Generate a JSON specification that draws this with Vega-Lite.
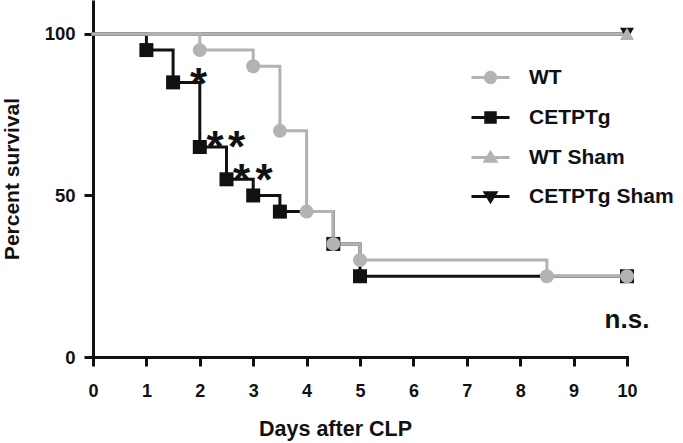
{
  "$schema": "https://vega.github.io/schema/vega-lite/v6.json",
  "width": 534,
  "height": 357,
  "autosize": "none",
  "padding": {"left": 93, "top": 0, "right": 56, "bottom": 86},
  "background": "white",
  "config": {"view": {"stroke": null}, "font": "Liberation Sans"},
  "datasets": {
    "surv": [
      {"group": "CETPTg", "day": 0, "pct": 100},
      {"group": "CETPTg", "day": 1, "pct": 95},
      {"group": "CETPTg", "day": 1.5, "pct": 85},
      {"group": "CETPTg", "day": 2, "pct": 65},
      {"group": "CETPTg", "day": 2.5, "pct": 55},
      {"group": "CETPTg", "day": 3, "pct": 50},
      {"group": "CETPTg", "day": 3.5, "pct": 45},
      {"group": "CETPTg", "day": 4.5, "pct": 35},
      {"group": "CETPTg", "day": 5, "pct": 25},
      {"group": "CETPTg", "day": 10, "pct": 25},
      {"group": "CETPTg Sham", "day": 0, "pct": 100},
      {"group": "CETPTg Sham", "day": 10, "pct": 100},
      {"group": "WT", "day": 0, "pct": 100},
      {"group": "WT", "day": 2, "pct": 95},
      {"group": "WT", "day": 3, "pct": 90},
      {"group": "WT", "day": 3.5, "pct": 70},
      {"group": "WT", "day": 4, "pct": 45},
      {"group": "WT", "day": 4.5, "pct": 35},
      {"group": "WT", "day": 5, "pct": 30},
      {"group": "WT", "day": 8.5, "pct": 25},
      {"group": "WT", "day": 10, "pct": 25},
      {"group": "WT Sham", "day": 0, "pct": 100},
      {"group": "WT Sham", "day": 10, "pct": 100}
    ],
    "notes": [
      {"label": "*", "day": 1.975, "pct": 86.5},
      {"label": "*", "day": 2.285, "pct": 67.0},
      {"label": "*", "day": 2.687, "pct": 67.0},
      {"label": "*", "day": 2.781, "pct": 56.5},
      {"label": "*", "day": 3.202, "pct": 56.5}
    ],
    "ns": [
      {"label": "n.s.", "day": 10, "pct": 9}
    ]
  },
  "layer": [
    {
      "data": {"name": "surv"},
      "transform": [{"filter": "datum.group === 'CETPTg' || datum.group === 'CETPTg Sham'"}],
      "mark": {"type": "line", "interpolate": "step-after", "strokeWidth": 3, "strokeCap": "square"},
      "encoding": {
        "x": {"field": "day", "type": "quantitative", "scale": {"domain": [0, 10], "nice": false, "zero": false},
          "axis": {"values": [0,1,2,3,4,5,6,7,8,9,10], "title": "Days after CLP", "grid": false,
            "domainWidth": 3, "domainColor": "#111111", "domainCap": "square", "tickWidth": 3, "tickSize": 9, "tickColor": "#111111",
            "labelFontSize": 18, "labelFontWeight": "bold", "labelColor": "#111111", "labelPadding": 16, "labelFlush": false,
            "titleFontSize": 21.5, "titleFontWeight": "bold", "titleColor": "#111111", "titlePadding": 18, "titleX": 242, "titleAlign": "center"}},
        "y": {"field": "pct", "type": "quantitative", "scale": {"domain": [0, 110.5], "nice": false, "zero": false},
          "axis": {"values": [0, 50, 100], "title": "Percent survival", "grid": false,
            "domainWidth": 3, "domainColor": "#111111", "tickWidth": 3, "tickSize": 9, "tickColor": "#111111",
            "labelFontSize": 18.5, "labelFontWeight": "bold", "labelColor": "#111111", "labelPadding": 9,
            "titleFontSize": 21, "titleFontWeight": "bold", "titleColor": "#111111", "titlePadding": 22}},
        "color": {"field": "group", "type": "nominal",
          "scale": {"domain": ["WT", "CETPTg", "WT Sham", "CETPTg Sham"], "range": ["#b3b3b3", "#111111", "#b3b3b3", "#111111"]}},
        "detail": {"field": "group"}
      }
    },
    {
      "data": {"name": "surv"},
      "transform": [{"filter": "datum.group === 'WT' || datum.group === 'WT Sham'"}],
      "mark": {"type": "line", "interpolate": "step-after", "strokeWidth": 3, "strokeCap": "square"},
      "encoding": {
        "x": {"field": "day", "type": "quantitative"},
        "y": {"field": "pct", "type": "quantitative"},
        "color": {"field": "group", "type": "nominal"},
        "detail": {"field": "group"}
      }
    },
    {
      "data": {"name": "surv"},
      "transform": [{"filter": "datum.day > 0"}],
      "mark": {"type": "point", "filled": true, "opacity": 1, "size": 196},
      "encoding": {
        "x": {"field": "day", "type": "quantitative"},
        "y": {"field": "pct", "type": "quantitative"},
        "color": {"field": "group", "type": "nominal",
          "legend": {"orient": "none", "legendX": 377, "legendY": 57, "title": null, "padding": 0,
            "symbolSize": 1444, "symbolStrokeWidth": 3, "labelFontSize": 21, "labelFontWeight": "bold", "labelColor": "#111111",
            "labelOffset": 18, "rowPadding": 8, "symbolOpacity": 1,
            "encode": {"symbols": {"update": {
              "shape": {"signal": "datum.value === 'WT' ? 'M-1,0H1M-0.27,0A0.27,0.27,0,1,0,0.27,0A0.27,0.27,0,1,0,-0.27,0Z' : datum.value === 'CETPTg' ? 'M-1,0H1M-0.25,-0.25H0.25V0.25H-0.25Z' : datum.value === 'WT Sham' ? 'M-1,0H1M-0.28,0.2H0.28L0,-0.26Z' : 'M-1,0H1M-0.28,-0.2H0.28L0,0.26Z'"},
              "stroke": {"signal": "(datum.value === 'WT' || datum.value === 'WT Sham') ? '#b3b3b3' : '#111111'"},
              "fill": {"signal": "(datum.value === 'WT' || datum.value === 'WT Sham') ? '#b3b3b3' : '#111111'"},
              "strokeWidth": {"value": 3},
              "size": {"value": 1444},
              "opacity": {"value": 1}
            }}}}},
        "shape": {"field": "group", "type": "nominal", "legend": null,
          "scale": {"domain": ["CETPTg", "WT", "WT Sham", "CETPTg Sham"], "range": ["square", "circle", "triangle-up", "triangle-down"]}}
      }
    },
    {
      "data": {"name": "notes"},
      "mark": {"type": "text", "fontSize": 44, "fontWeight": "bold", "color": "#111111", "align": "center", "baseline": "alphabetic", "dy": 21},
      "encoding": {
        "x": {"field": "day", "type": "quantitative"},
        "y": {"field": "pct", "type": "quantitative"},
        "text": {"field": "label"}
      }
    },
    {
      "data": {"name": "ns"},
      "mark": {"type": "text", "fontSize": 26, "fontWeight": "bold", "color": "#111111", "align": "center", "baseline": "alphabetic"},
      "encoding": {
        "x": {"field": "day", "type": "quantitative"},
        "y": {"field": "pct", "type": "quantitative"},
        "text": {"field": "label"}
      }
    }
  ]
}
